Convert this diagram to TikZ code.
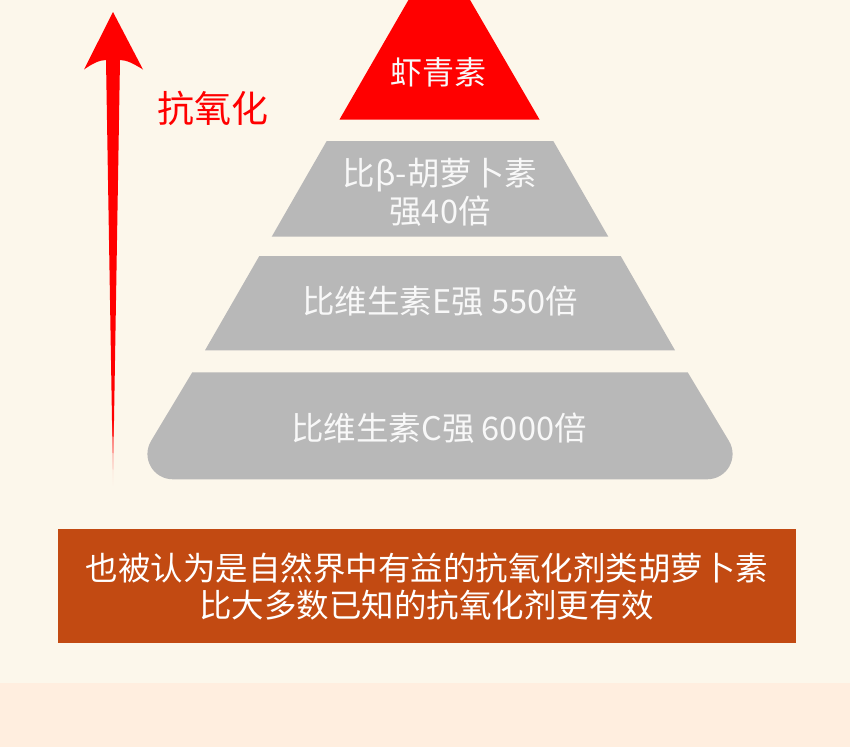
\documentclass[tikz,border=0pt]{standalone}
\usepackage{fontspec}
\setmainfont{Noto Sans CJK SC}
\usetikzlibrary{calc}
\definecolor{bgcream}{HTML}{FCF7EB}
\definecolor{bgpeach}{HTML}{FFEEDF}
\definecolor{tiergray}{HTML}{B8B8B8}
\definecolor{boxbrown}{HTML}{C24A12}
\definecolor{txtwhite}{HTML}{F8F8F8}
\begin{document}
\begin{tikzpicture}[x=1pt,y=-1pt,
  tiertext/.style={text=txtwhite, font=\fontsize{32.5}{38.5}\selectfont, align=center, inner sep=0pt},
  toptext/.style={tiertext, font=\fontsize{32}{38}\selectfont},
  tierfill/.style={fill=tiergray},
  notebox/.style={fill=boxbrown, text=white, align=center, inner sep=0pt,
    minimum width=738.3pt, minimum height=113.7pt, font=\fontsize{32.5}{37}\selectfont},
  axislabel/.style={text=red, font=\fontsize{37}{40}\selectfont, inner sep=0pt}
 ]
\useasboundingbox (0,0) rectangle (850,747);
\fill[bgcream] (0,0) rectangle (850,683.3);
\fill[bgpeach] (0,683.3) rectangle (850,747);

% arrow
\fill[red] (113,12) -- (143,69.5) .. controls (134,64) and (127,60) .. (120,60)
  -- (114,420.5) -- (112,420.5) -- (106,60) .. controls (99,60) and (92,64) .. (84,69.5) -- cycle;
\shade[top color=red, bottom color=bgcream] (112,420) -- (114,420) -- (113,486) -- cycle;
\node[axislabel] (lbl) at (213,108) {抗氧化};

% tier 1
\fill[red] (409,-1) -- (469.5,-1) -- (539.5,119.5) -- (339.5,119.5) -- cycle;
\node[toptext] (t1) at (438.5,72) {虾青素};

% tier 2
\fill[tierfill] (326.7,141) -- (553.3,141) -- (608.3,236.7) -- (271.7,236.7) -- cycle;
\node[tiertext] (t2) at (440,192.5) {比β-胡萝卜素\\强40倍};

% tier 3
\fill[tierfill] (259.3,256) -- (620.7,256) -- (675,350.3) -- (205,350.3) -- cycle;
\node[tiertext] (t3) at (440,301) {比维生素E强 550倍};

% tier 4
\coordinate (qa) at (192.3,372.3);
\coordinate (qb) at (687.7,372.3);
\coordinate (qc) at (752,479.3);
\coordinate (qd) at (128,479.3);
\fill[tierfill] (qa) -- (qb) -- ($(qc)!45pt!(qb)$)
  .. controls ($(qc)!25pt!(qb)$) and ($(qc)!25pt!(qd)$) .. ($(qc)!45pt!(qd)$)
  -- ($(qd)!45pt!(qc)$)
  .. controls ($(qd)!25pt!(qc)$) and ($(qd)!25pt!(qa)$) .. ($(qd)!45pt!(qa)$) -- cycle;
\node[tiertext] (t4) at (439,428) {比维生素C强 6000倍};

% note box
\node[notebox] (note) at (426.85,586.15) {也被认为是自然界中有益的抗氧化剂类胡萝卜素\\比大多数已知的抗氧化剂更有效};
\end{tikzpicture}
\end{document}
